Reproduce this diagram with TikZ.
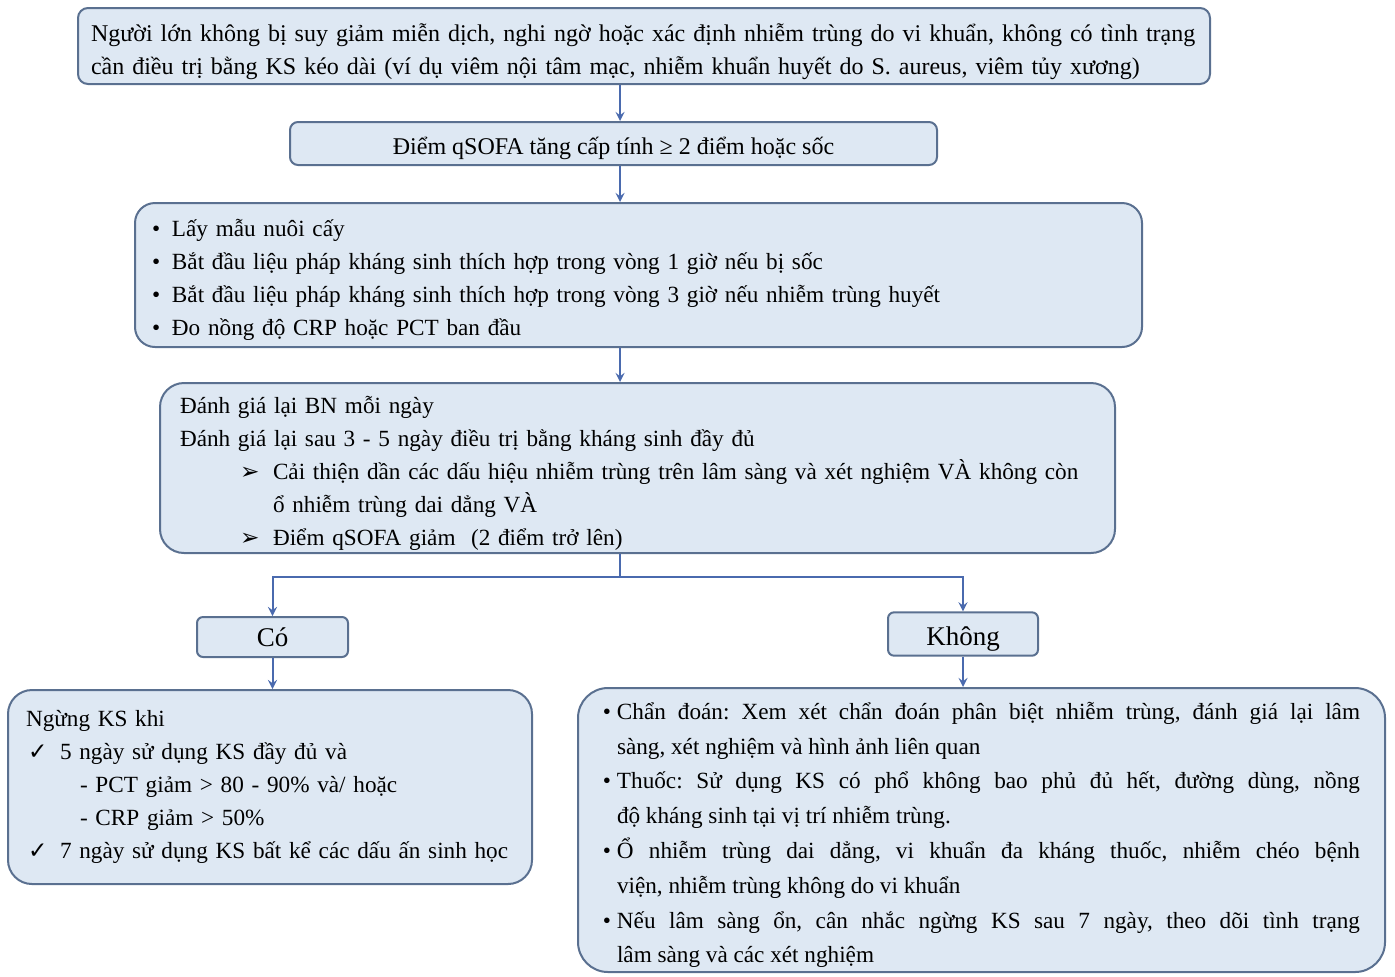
\documentclass[tikz,border=0pt]{standalone}
\usepackage{fontspec}
\usepackage{tikz}
\usepackage{xcolor}
\usetikzlibrary{
    arrows,
    shapes,
    shapes.misc
}
\setmainfont{Liberation Serif}
\newfontfamily\symfont{DejaVu Sans}
\frenchspacing
\definecolor{boxfill}{HTML}{DEE8F3}
\definecolor{boxline}{HTML}{5A7090}
\definecolor{linkblue}{HTML}{4A6AAE}
\newcommand{\dotitem}{\makebox[10pt][l]{•}}
\newcommand{\tipitem}{\hspace*{30pt}\makebox[16.5pt][l]{{\symfont ➢}}}
\newcommand{\tickitem}{\hspace*{1pt}\makebox[16pt][l]{{\symfont ✓}}}
\newcommand{\rbul}{\leavevmode\llap{•\hspace{3pt}}}

\begin{document}
\begin{tikzpicture}[x=0.5pt, y=-0.5pt,
    box/.style={draw=boxline, fill=boxfill, line width=1pt, align=left,
        font=\fontsize{11.6}{16.5}\selectfont},
    pushdown/.style={execute at end node={\endgraf\kern-#1\relax}},
    link/.style={draw=linkblue, line width=1pt}]
            \useasboundingbox (0,0) rectangle (1395,976);
            \coordinate (mid) at (620,0);

            \node[box, pushdown=6pt, rounded corners=5pt, minimum width=566pt, minimum height=38pt, text width=553pt, inner xsep=6.5pt, font=\fontsize{12}{16.5}\selectfont] (adult) at (644,46) {Người lớn không bị suy giảm miễn dịch, nghi ngờ hoặc xác định nhiễm trùng do vi khuẩn, không có tình trạng\\cần điều trị bằng KS kéo dài (ví dụ viêm nội tâm mạc, nhiễm khuẩn huyết do S. aureus, viêm tủy xương)};

            \node[box, rounded corners=4pt, minimum width=323.5pt, minimum height=21.5pt, align=center, text height=12pt, text depth=1pt, font=\fontsize{12}{16.5}\selectfont] (qsofa) at (613.5,143.5) {Điểm qSOFA tăng cấp tính ≥ 2 điểm hoặc sốc};

            \node[box, pushdown=5pt, rounded corners=10pt, minimum width=503.5pt, minimum height=72pt, text width=486.5pt, inner xsep=8.5pt] (start) at (638.5,275) {\dotitem Lấy mẫu nuôi cấy\\\dotitem Bắt đầu liệu pháp kháng sinh thích hợp trong vòng 1 giờ nếu bị sốc\\\dotitem Bắt đầu liệu pháp kháng sinh thích hợp trong vòng 3 giờ nếu nhiễm trùng huyết\\\dotitem Đo nồng độ CRP hoặc PCT ban đầu};

            \node[box, pushdown=5pt, rounded corners=12pt, minimum width=477.5pt, minimum height=85pt, text width=457.5pt, inner xsep=10pt] (review) at (637.5,468) {Đánh giá lại BN mỗi ngày\\Đánh giá lại sau 3 - 5 ngày điều trị bằng kháng sinh đầy đủ\\\tipitem Cải thiện dần các dấu hiệu nhiễm trùng trên lâm sàng và xét nghiệm VÀ không còn\\\hspace*{46.5pt}ổ nhiễm trùng dai dẳng VÀ\\\tipitem Điểm qSOFA giảm\ \ (2 điểm trở lên)};

            \node[box, rounded corners=3pt, minimum width=75.5pt, minimum height=20pt, align=center, font=\fontsize{13.5}{16}\selectfont] (yes) at (272.5,637) {Có};
            \node[box, rounded corners=3pt, minimum width=75pt, minimum height=21pt, align=center, text height=13pt, text depth=2pt, font=\fontsize{13.5}{16}\selectfont] (no) at (963,634) {Không};

            \node[box, rounded corners=12pt, minimum width=262pt, minimum height=97pt, text width=244pt, inner xsep=9pt] (stopks) at (270,787) {Ngừng KS khi\\\tickitem 5 ngày sử dụng KS đầy đủ và\\\hspace*{27pt}- PCT giảm > 80 - 90\% và/ hoặc\\\hspace*{27pt}- CRP giảm > 50\%\\\tickitem 7 ngày sử dụng KS bất kể các dấu ấn sinh học};

            \node[box, pushdown=5pt, rounded corners=15pt, minimum width=403.5pt, minimum height=142pt, text width=378.5pt, inner xsep=12.5pt, align=justify, font=\fontsize{11.6}{17.4}\selectfont] (recheck) at (981.5,830) {\leftskip=7pt
            \rbul Chẩn đoán: Xem xét chẩn đoán phân biệt nhiễm trùng, đánh giá lại lâm\linebreak sàng, xét nghiệm và hình ảnh liên quan\par
            \rbul Thuốc: Sử dụng KS có phổ không bao phủ đủ hết, đường dùng, nồng\linebreak độ kháng sinh tại vị trí nhiễm trùng.\par
            \rbul Ổ nhiễm trùng dai dẳng, vi khuẩn đa kháng thuốc, nhiễm chéo bệnh\linebreak viện, nhiễm trùng không do vi khuẩn\par
            \rbul Nếu lâm sàng ổn, cân nhắc ngừng KS sau 7 ngày, theo dõi tình trạng\linebreak lâm sàng và các xét nghiệm\par};

            \draw[link, ->, >=stealth] (adult.south -| mid)--(qsofa.north -| mid);
            \draw[link, ->, >=stealth] (qsofa.south -| mid)--(start.north -| mid);
            \draw[link, ->, >=stealth] (start.south -| mid)--(review.north -| mid);

            \coordinate (split) at (620,577);
            \draw[link] (review.south -| mid)--(split);
            \draw[link, ->, >=stealth] (split)-|(yes);
            \draw[link, ->, >=stealth] (split)-|(no);

            \draw[link, ->, >=stealth] (yes)--(yes |- stopks.north);
            \draw[link, ->, >=stealth] (no)--(no |- recheck.north);
            \end{tikzpicture}
\end{document}
